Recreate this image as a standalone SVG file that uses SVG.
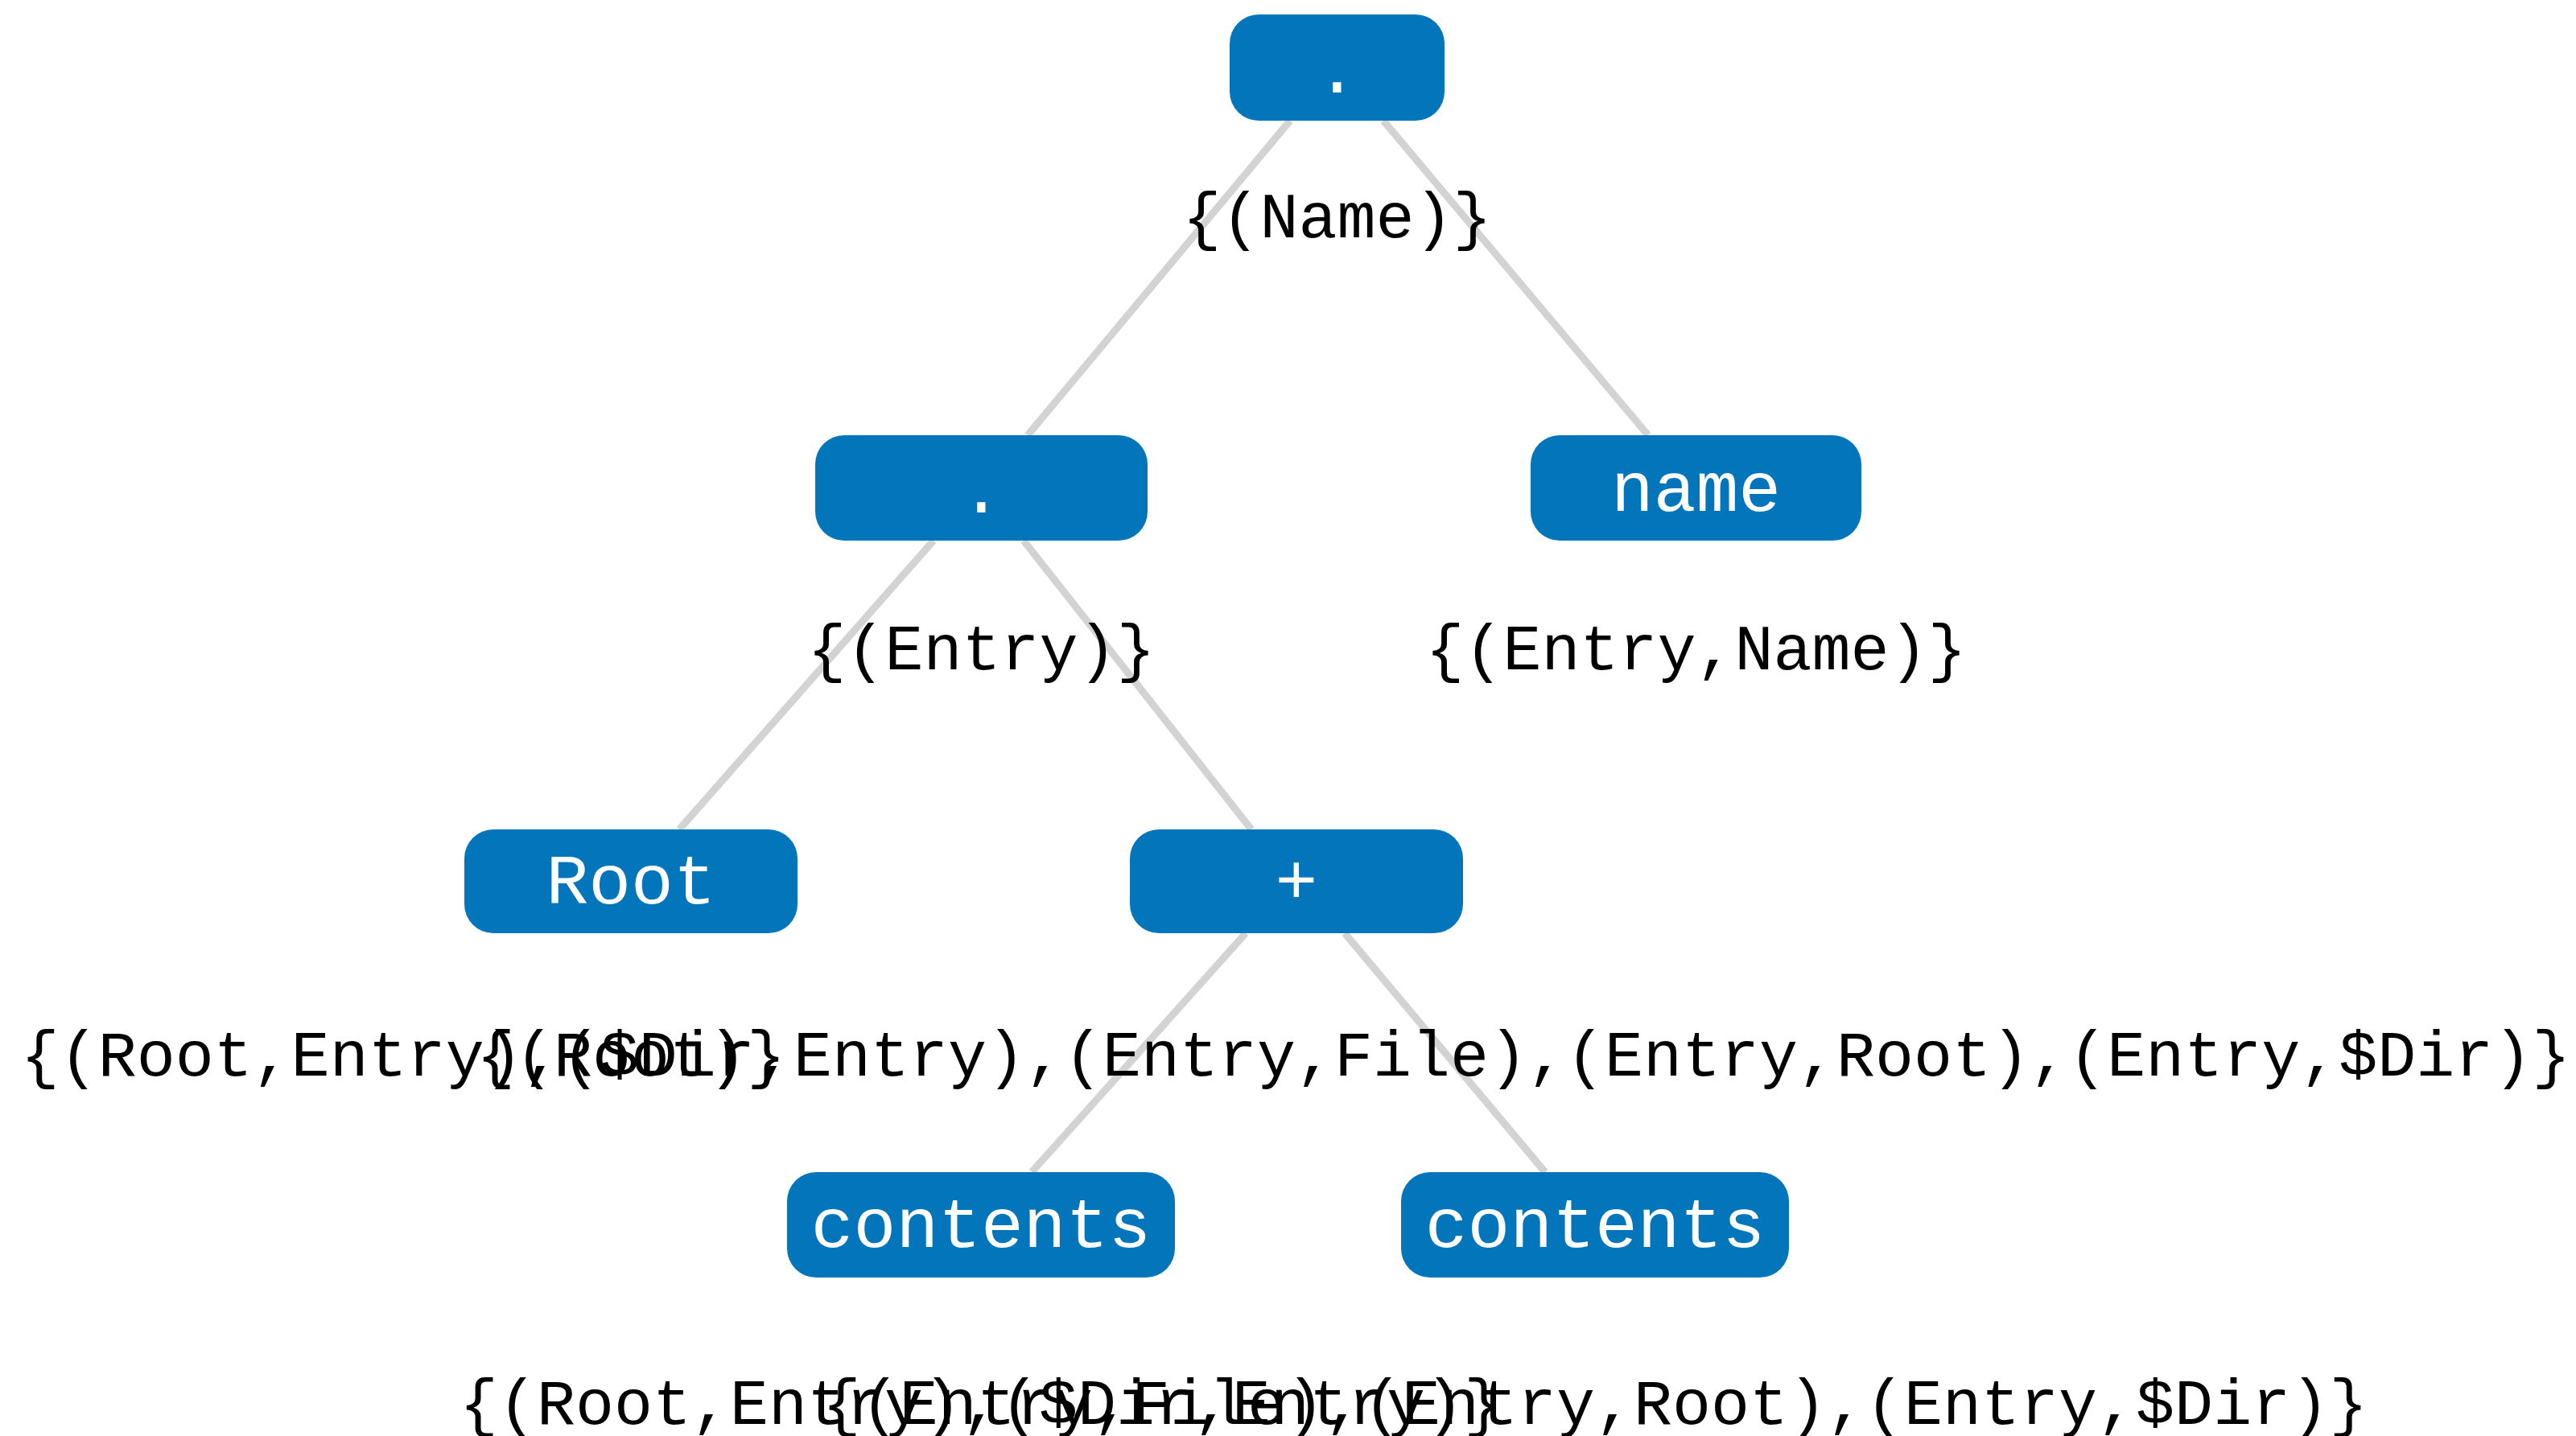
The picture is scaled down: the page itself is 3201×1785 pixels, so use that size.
<svg xmlns="http://www.w3.org/2000/svg" width="3201" height="1785" viewBox="0 0 3201 1785">
  <style>
    .edge { stroke: #d3d3d3; stroke-width: 9; fill: none; }
    .box { fill: #0376bb; }
    .name { font-family: "Courier New", "Liberation Mono", monospace; font-size: 88px; fill: #ffffff; text-anchor: middle; }
    .set { font-family: "Courier New", "Liberation Mono", monospace; font-size: 80px; fill: #000000; text-anchor: middle; }
  </style>
  <rect width="3201" height="1785" fill="#ffffff"/>

  <!-- tree edges -->
  <g id="connectors">
    <line class="edge" x1="1603" y1="150" x2="1277" y2="541"/>
    <line class="edge" x1="1719" y1="150" x2="2048" y2="541"/>
    <line class="edge" x1="1160" y1="672" x2="844" y2="1031"/>
    <line class="edge" x1="1272" y1="672" x2="1555" y2="1031"/>
    <line class="edge" x1="1548" y1="1160" x2="1282" y2="1457"/>
    <line class="edge" x1="1671" y1="1160" x2="1920" y2="1457"/>
  </g>

  <g id="n-join-top">
    <rect class="box" x="1528" y="18" width="267" height="132" rx="36"/>
    <text class="name" x="1661.5" y="115">.</text>
    <text class="set" x="1661.5" y="295">{(Name)}</text>
  </g>

  <g id="n-join-inner">
    <rect class="box" x="1013" y="541" width="413" height="131" rx="36"/>
    <text class="name" x="1219.5" y="637">.</text>
    <text class="set" x="1219.5" y="832">{(Entry)}</text>
  </g>

  <g id="n-name">
    <rect class="box" x="1902" y="541" width="411" height="131" rx="36"/>
    <text class="name" x="2107.5" y="635">name</text>
    <text class="set" x="2107.5" y="832">{(Entry,Name)}</text>
  </g>

  <g id="n-root">
    <rect class="box" x="577" y="1031" width="414" height="129" rx="36"/>
    <text class="name" x="784" y="1123">Root</text>
    <text class="set" x="784" y="1337">{(Root)}</text>
  </g>

  <g id="n-union">
    <rect class="box" x="1404" y="1031" width="414" height="129" rx="36"/>
    <text class="name" x="1611" y="1123">+</text>
    <text class="set" x="1610" y="1337">{(Root,Entry),($Dir,Entry),(Entry,File),(Entry,Root),(Entry,$Dir)}</text>
  </g>

  <g id="n-contents-left">
    <rect class="box" x="978" y="1457" width="482" height="131" rx="36"/>
    <text class="name" x="1219" y="1550">contents</text>
    <text class="set" x="1219" y="1770">{(Root,Entry),($Dir,Entry)}</text>
  </g>

  <g id="n-contents-right">
    <rect class="box" x="1741" y="1457" width="482" height="131" rx="36"/>
    <text class="name" x="1982" y="1550">contents</text>
    <text class="set" x="1982" y="1770">{(Entry,File),(Entry,Root),(Entry,$Dir)}</text>
  </g>
</svg>
